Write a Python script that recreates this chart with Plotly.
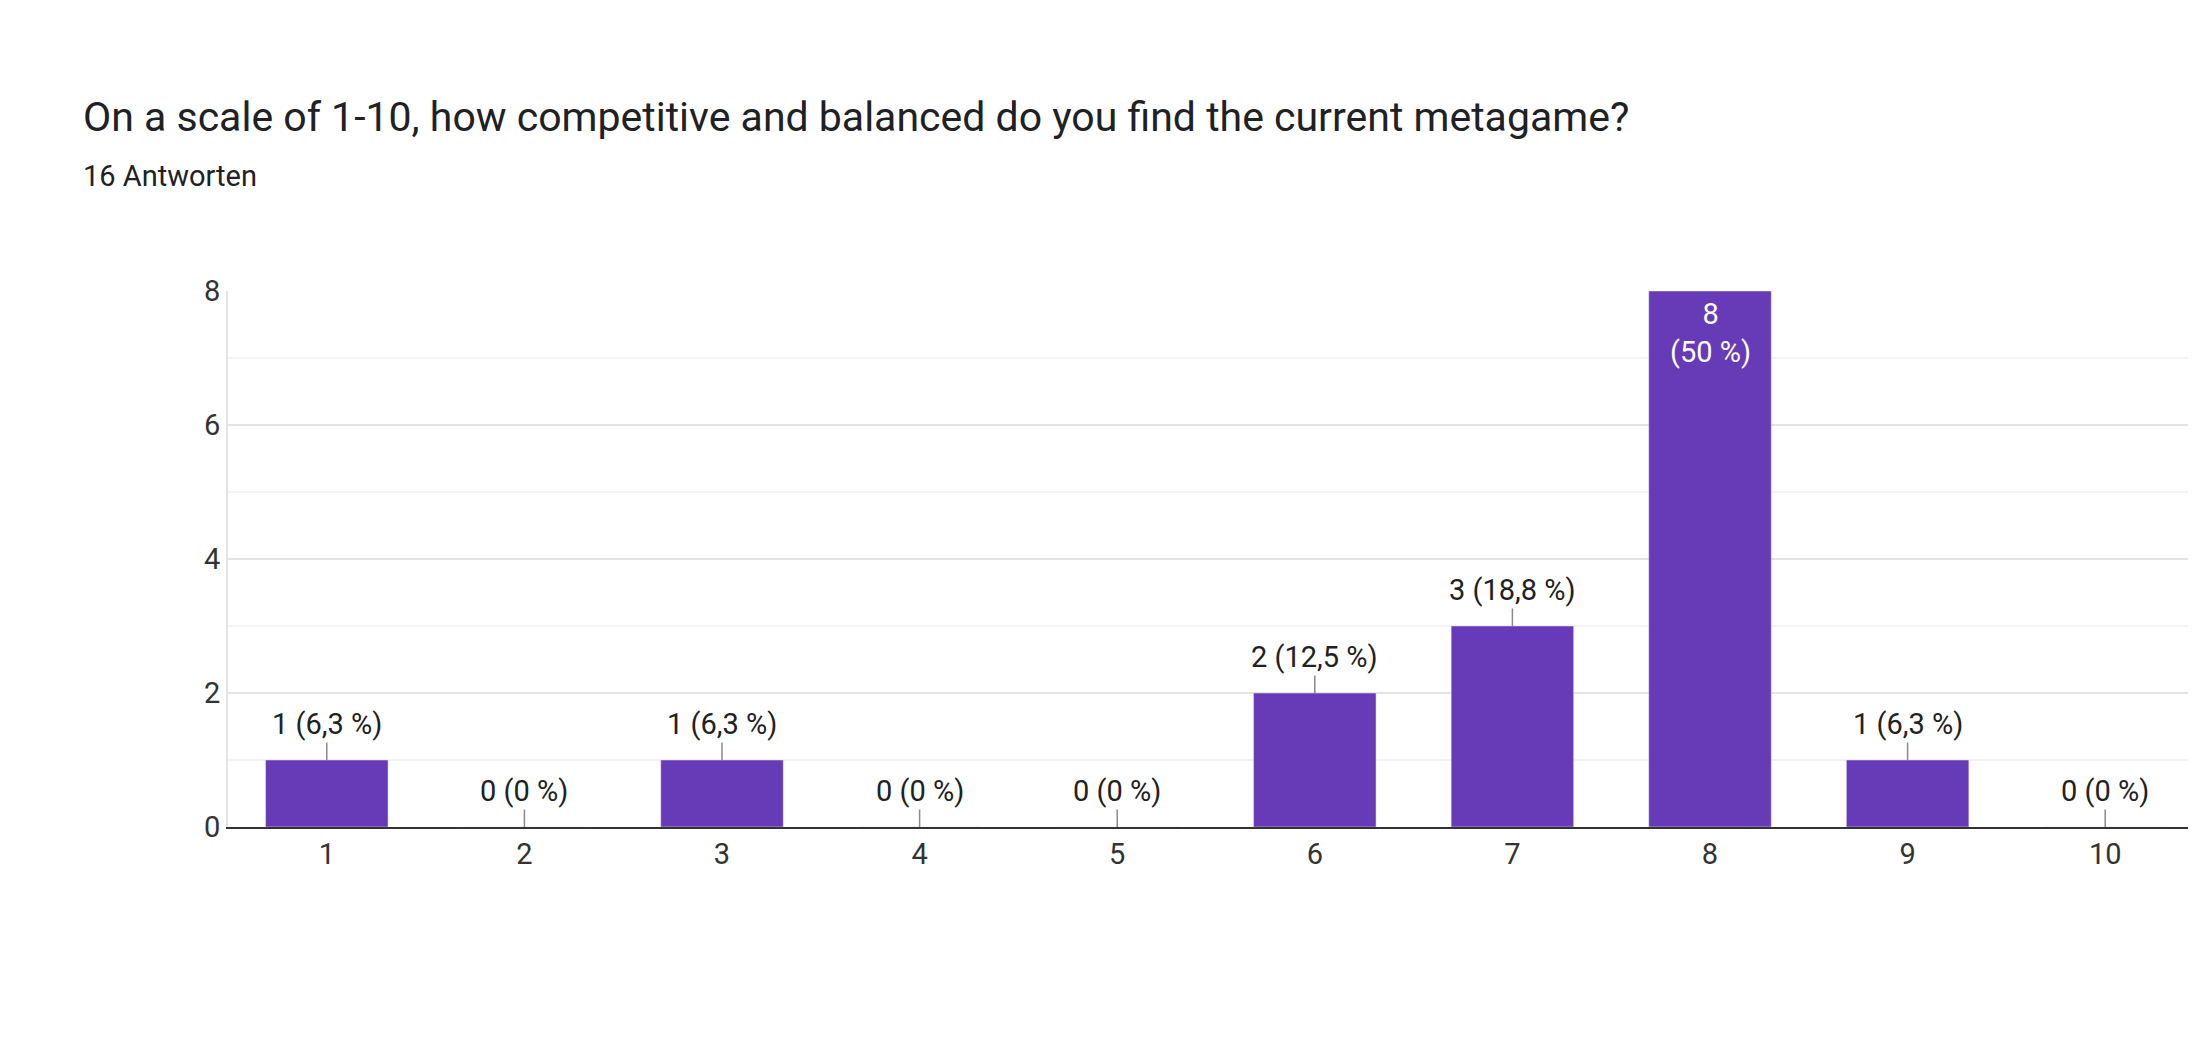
import plotly.graph_objects as go

categories = ["1", "2", "3", "4", "5", "6", "7", "8", "9", "10"]
counts = [1, 0, 1, 0, 0, 2, 3, 8, 1, 0]
labels = ["1 (6,3 %)", "0 (0 %)", "1 (6,3 %)", "0 (0 %)", "0 (0 %)",
          "2 (12,5 %)", "3 (18,8 %)", "8<br>(50 %)", "1 (6,3 %)", "0 (0 %)"]

fig = go.Figure(go.Bar(x=categories, y=counts, marker_color="#673ab7", width=0.62,
                       hoverinfo="skip"))

anns = []
for i, (v, t) in enumerate(zip(counts, labels)):
    if v >= 8:
        anns.append(dict(x=i, y=v, text=t, showarrow=False, yanchor="top", yshift=-4,
                         font=dict(color="white", size=29, family="Roboto")))
    else:
        anns.append(dict(x=i, y=v, text=t, showarrow=True, arrowhead=0, arrowwidth=1.5,
                         arrowcolor="#8a8a8a", ax=0, ay=-36,
                         font=dict(color="#212121", size=29, family="Roboto")))

anns += [
    dict(text="On a scale of 1-10, how competitive and balanced do you find the current metagame?",
         xref="paper", yref="paper", x=-147/1976, y=1, yshift=200, xanchor="left",
         showarrow=False, font=dict(size=41, color="#202124")),
    dict(text="16 Antworten", xref="paper", yref="paper", x=-147/1976, y=1, yshift=134,
         xanchor="left", showarrow=False, font=dict(size=29, color="#202124")),
]

fig.update_layout(
    width=2196, height=1044, plot_bgcolor="white", paper_bgcolor="white",
    margin=dict(l=220, r=0, t=283, b=225),
    font=dict(family="Roboto", color="#212121"),
    showlegend=False,
    xaxis=dict(type="category", showgrid=False, tickfont=dict(size=29, color="#333"), ticks="",
               showline=True, linecolor="#333", linewidth=2),
    yaxis=dict(range=[0, 8], tickvals=[0, 2, 4, 6, 8], gridcolor="#e4e4e4", gridwidth=2,
               minor=dict(tickvals=[1, 3, 5, 7], showgrid=True, gridcolor="#f3f3f3", gridwidth=2),
               tickfont=dict(size=29, color="#333"), ticksuffix="   ",
               showline=True, linecolor="#e4e4e4", linewidth=2, zeroline=False),
    annotations=anns,
)
fig.write_html("out.html")
